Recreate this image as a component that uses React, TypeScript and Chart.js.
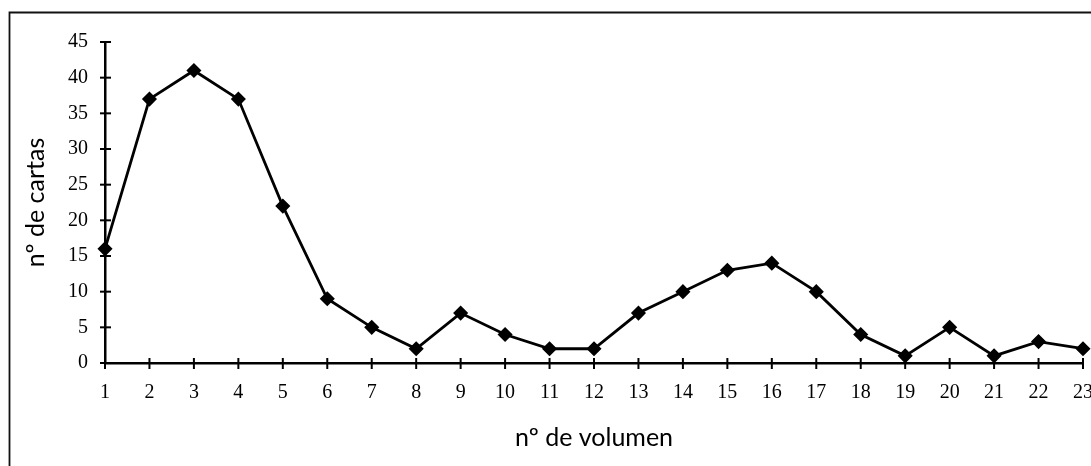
import React, { useEffect, useRef } from "react";
import { Chart, registerables } from "chart.js";

Chart.register(...registerables);

const volumes = ["1","2","3","4","5","6","7","8","9","10","11","12","13","14","15","16","17","18","19","20","21","22","23"];
const cartas = [16, 37, 41, 37, 22, 9, 5, 2, 7, 4, 2, 2, 7, 10, 13, 14, 10, 4, 1, 5, 1, 3, 2];
const yMin = 0;
const yMax = 45;
const yStep = 5;
const xTitle = "nº de volumen";
const yTitle = "nº de cartas";

const crossTicks = {
  id: "crossTicks",
  afterDatasetsDraw(chart: any) {
    const { ctx } = chart;
    const xs = chart.scales.x;
    const ys = chart.scales.y;
    ctx.save();
    ctx.strokeStyle = "#000";
    ctx.lineWidth = 2;
    xs.ticks.forEach((_t: any, i: number) => {
      const px = xs.getPixelForTick(i);
      ctx.beginPath();
      ctx.moveTo(px, ys.bottom - 5);
      ctx.lineTo(px, ys.bottom + 6);
      ctx.stroke();
    });
    ys.ticks.forEach((_t: any, i: number) => {
      const py = ys.getPixelForTick(i);
      ctx.beginPath();
      ctx.moveTo(xs.left - 5, py);
      ctx.lineTo(xs.left + 6, py);
      ctx.stroke();
    });
    ctx.restore();
  },
};

const frame = {
  id: "frame",
  beforeDraw(chart: any) {
    const { ctx, width, height } = chart;
    ctx.save();
    ctx.fillStyle = "#fff";
    ctx.fillRect(0, 0, width, height);
    ctx.strokeStyle = "#111";
    ctx.lineWidth = 1.8;
    ctx.beginPath();
    ctx.moveTo(9.5, height);
    ctx.lineTo(9.5, 12.5);
    ctx.lineTo(width, 12.5);
    ctx.stroke();
    ctx.restore();
  },
};

export default function App() {
  const ref = useRef<HTMLCanvasElement>(null);
  useEffect(() => {
    document.body.style.margin = "0";
    const chart = new Chart(ref.current!, {
      type: "line",
      data: {
        labels: volumes,
        datasets: [
          {
            data: cartas,
            borderColor: "#000",
            borderWidth: 2.8,
            backgroundColor: "#000",
            pointStyle: "rectRot",
            pointRadius: 6.5,
            pointBorderWidth: 1.5,
            pointBackgroundColor: "#000",
            pointBorderColor: "#000",
            tension: 0,
            clip: false,
          },
        ],
      },
      options: {
        animation: false,
        responsive: false,
        maintainAspectRatio: false,
        layout: { padding: { top: 42, left: 0, right: 0, bottom: 0 } },
        plugins: { legend: { display: false }, tooltip: { enabled: false } },
        scales: {
          x: {
            offset: false,
            grid: { display: false, drawTicks: false },
            border: { color: "#000", width: 2.5 },
            ticks: {
              autoSkip: false,
              maxRotation: 0,
              padding: 18,
              color: "#000",
              font: { family: "'Liberation Serif', serif", size: 20 },
            },
            title: {
              display: true,
              text: xTitle,
              color: "#000",
              font: { family: "Lato, 'Open Sans', sans-serif", size: 25 },
              padding: { top: 0, bottom: 13 },
            },
            afterFit(scale: any) {
              scale.height = 103;
              scale.paddingLeft = 0;
              scale.paddingRight = 0;
            },
          },
          y: {
            min: yMin,
            max: yMax,
            grid: { display: false, drawTicks: false },
            border: { color: "#000", width: 2.5 },
            ticks: {
              stepSize: yStep,
              padding: 17,
              color: "#000",
              font: { family: "'Liberation Serif', serif", size: 20 },
            },
            title: {
              display: true,
              text: yTitle,
              color: "#000",
              font: { family: "Lato, 'Open Sans', sans-serif", size: 25 },
              padding: { top: 21, bottom: 0 },
            },
            afterFit(scale: any) {
              scale.width = 105;
              scale.paddingTop = 0;
              scale.paddingBottom = 0;
            },
          },
        },
      },
      plugins: [frame, crossTicks],
    });
    return () => chart.destroy();
  }, []);
  return <canvas ref={ref} width={1091} height={466} style={{ display: "block" }} />;
}
